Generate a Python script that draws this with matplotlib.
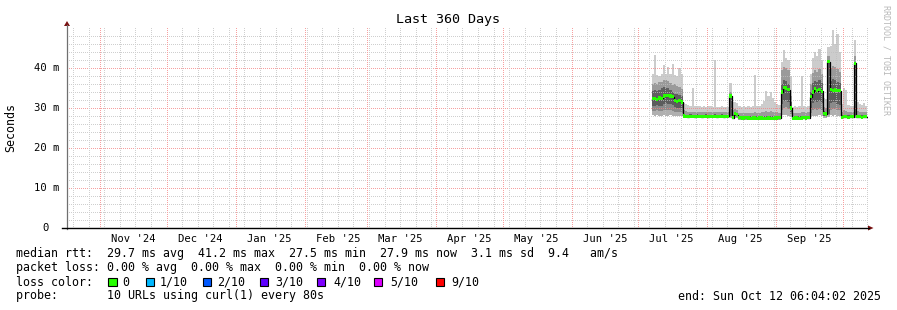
import numpy as np
import pandas as pd
import matplotlib
matplotlib.use("Agg")
import matplotlib.pyplot as plt
import matplotlib.dates as mdates
from matplotlib.patches import Rectangle, Polygon
from matplotlib.colors import to_rgb

W, H = 897, 310
MONO = "DejaVu Sans Mono"

# ---------------- data ----------------
graph_start = "2024-10-17 06:04:02"
graph_end = "2025-10-12 06:04:02"
data_start = "2025-07-07"

# daily median rtt (ms)
median = [32.3, 32.4, 32.2, 32.5, 32.4, 33.0, 33.1, 33.2, 33.0, 32.8, 31.8, 31.7, 31.8, 31.5,
          28.0, 27.9, 27.8, 27.9, 27.9, 27.8, 27.9, 27.9, 27.8, 27.9, 27.9, 27.8, 27.9, 27.9,
          27.9, 27.8, 27.9, 27.9, 27.8, 27.9, 27.9,
          33.0, 27.6, 28.6, 28.3,
          27.6, 27.5, 27.5, 27.6, 27.5, 27.4, 27.5, 27.5, 27.4, 27.5, 27.5, 27.4, 27.4, 27.5,
          27.4, 27.4, 27.5, 27.5, 27.6,
          34.0, 35.2, 35.0, 34.6, 30.0,
          27.4, 27.5, 27.5, 27.4, 27.5, 27.6, 27.5, 27.6,
          32.8, 34.0, 34.8, 34.3, 34.6, 34.2,
          28.7, 28.5, 41.6, 34.6, 34.4, 34.5, 34.4, 34.3,
          27.7, 27.8, 27.8, 27.7, 27.8, 27.8, 41.2,
          27.8, 27.8, 27.7, 27.8, 27.8]

# smoke (sorted ping distribution) levels, ms
smoke_min = [28.2, 28.1, 28.2, 28.0, 28.1, 28.2, 28.1, 28.0, 28.2, 28.1, 28.0, 28.1, 28.0, 28.0,
             27.5, 27.4, 27.4, 27.5, 27.4, 27.4, 27.5, 27.4, 27.4, 27.4, 27.5, 27.4, 27.4, 27.4,
             27.5, 27.4, 27.4, 27.5, 27.4, 27.4, 27.4,
             27.6, 27.3, 27.5, 27.4,
             27.1, 27.1, 27.0, 27.1, 27.1, 27.0, 27.1, 27.1, 27.0, 27.1, 27.1, 27.0, 27.0, 27.1,
             27.0, 27.0, 27.1, 27.1, 27.1,
             28.2, 28.3, 28.2, 28.1, 27.8,
             27.1, 27.1, 27.1, 27.0, 27.1, 27.2, 27.1, 27.2,
             27.8, 28.0, 28.1, 28.0, 28.2, 28.0,
             27.6, 27.5, 27.8, 28.2, 28.1, 28.2, 28.0, 28.1,
             27.4, 27.4, 27.4, 27.3, 27.4, 27.4, 27.6,
             27.4, 27.4, 27.3, 27.4, 27.4]
smoke_q1 = [29.3, 29.2, 29.4, 29.3, 29.2, 29.5, 29.6, 29.5, 29.4, 29.3, 29.0, 28.9, 28.9, 28.8,
            27.7, 27.6, 27.6, 27.7, 27.6, 27.6, 27.7, 27.6, 27.6, 27.6, 27.7, 27.6, 27.6, 27.6,
            27.7, 27.6, 27.6, 27.7, 27.6, 27.6, 27.6,
            27.8, 27.5, 27.8, 27.7,
            27.3, 27.3, 27.2, 27.3, 27.3, 27.2, 27.3, 27.3, 27.2, 27.3, 27.3, 27.2, 27.2, 27.3,
            27.2, 27.2, 27.3, 27.3, 27.3,
            29.5, 30.0, 30.2, 29.8, 28.5,
            27.3, 27.3, 27.3, 27.2, 27.3, 27.4, 27.3, 27.4,
            28.8, 29.5, 29.8, 29.6, 29.8, 29.4,
            27.9, 27.8, 28.2, 29.6, 29.8, 29.7, 29.5, 29.4,
            27.6, 27.6, 27.6, 27.5, 27.6, 27.6, 27.9,
            27.6, 27.6, 27.5, 27.6, 27.6]
smoke_q2 = [30.6, 30.5, 30.7, 30.6, 30.4, 31.0, 31.2, 31.1, 30.9, 30.7, 30.2, 30.0, 30.1, 29.9,
            27.8, 27.7, 27.7, 27.8, 27.7, 27.7, 27.8, 27.7, 27.7, 27.7, 27.8, 27.7, 27.7, 27.7,
            27.8, 27.7, 27.7, 27.8, 27.7, 27.7, 27.7,
            28.0, 27.6, 28.0, 27.9,
            27.4, 27.4, 27.3, 27.4, 27.4, 27.3, 27.4, 27.4, 27.3, 27.4, 27.4, 27.3, 27.3, 27.4,
            27.3, 27.3, 27.4, 27.4, 27.4,
            31.0, 31.8, 32.0, 31.5, 29.0,
            27.4, 27.4, 27.4, 27.3, 27.4, 27.5, 27.4, 27.5,
            30.0, 31.3, 31.8, 31.5, 31.8, 31.2,
            28.1, 28.0, 28.5, 31.2, 31.5, 31.4, 31.0, 30.8,
            27.7, 27.7, 27.7, 27.6, 27.7, 27.7, 28.2,
            27.7, 27.7, 27.6, 27.7, 27.7]
smoke_q3 = [34.3, 34.5, 34.2, 34.6, 35.0, 35.3, 35.1, 34.9, 34.6, 34.0, 33.6, 33.4, 33.2, 33.0,
            28.6, 28.3, 28.3, 28.4, 28.3, 28.3, 28.4, 28.3, 28.3, 28.3, 28.4, 28.3, 28.3, 28.3,
            28.4, 28.3, 28.3, 28.4, 28.3, 28.3, 28.3,
            33.2, 28.2, 28.9, 28.7,
            28.0, 28.0, 27.9, 28.0, 28.0, 27.9, 28.0, 28.0, 27.9, 28.0, 28.0, 27.9, 27.9, 28.0,
            27.9, 27.9, 28.0, 28.0, 28.0,
            36.0, 37.0, 36.8, 36.0, 31.5,
            28.0, 28.0, 28.0, 27.9, 28.0, 28.1, 28.0, 28.1,
            34.0, 36.3, 36.8, 36.5, 37.0, 36.2,
            29.2, 29.0, 41.6, 36.8, 37.2, 37.0, 36.6, 36.2,
            28.3, 28.3, 28.3, 28.2, 28.3, 28.3, 41.2,
            28.3, 28.3, 28.2, 28.3, 28.3]
smoke_q4 = [36.0, 36.3, 36.1, 36.4, 36.6, 37.1, 36.9, 36.7, 36.3, 35.8, 35.9, 35.6, 35.2, 34.8,
            29.6, 29.2, 29.0, 29.1, 29.0, 29.0, 29.1, 29.0, 29.0, 29.0, 29.1, 29.0, 29.0, 29.0,
            29.1, 29.0, 29.0, 29.1, 29.0, 29.0, 29.0,
            34.0, 29.5, 29.8, 29.6,
            28.8, 28.8, 28.7, 28.8, 28.8, 28.7, 28.8, 28.9, 28.7, 28.8, 28.9, 29.0, 29.2, 29.1,
            29.3, 29.1, 29.0, 28.9, 28.8,
            39.5, 40.3, 40.0, 39.5, 33.0,
            28.8, 28.8, 28.8, 28.7, 28.9, 28.9, 28.8, 28.9,
            36.0, 38.8, 39.5, 39.0, 39.8, 38.5,
            30.2, 30.0, 43.0, 40.0, 40.5, 40.3, 39.8, 39.0,
            29.0, 29.4, 29.3, 29.0, 29.0, 29.0, 43.0,
            29.2, 29.0, 29.0, 29.1, 29.0]
smoke_max = [38.5, 43.2, 38.3, 38.0, 38.4, 40.8, 38.6, 40.3, 38.4, 41.0, 38.2, 37.9, 40.0, 38.5,
             31.2, 31.0, 30.8, 30.6, 35.0, 30.5, 30.4, 30.5, 30.3, 30.4, 30.3, 30.5, 30.4, 30.3,
             42.0, 30.3, 30.2, 30.4, 30.3, 30.2, 30.3,
             36.2, 31.6, 31.6, 31.3,
             30.4, 30.3, 30.5, 30.3, 30.4, 30.2, 30.6, 38.2, 30.4, 30.5, 31.0, 31.8, 34.2, 33.0,
             34.0, 32.5, 31.5, 31.0, 30.8,
             41.5, 44.5, 42.6, 42.0, 38.0,
             30.3, 30.4, 30.2, 30.5, 38.0, 30.4, 30.3, 30.6,
             38.5, 42.5, 44.0, 43.0, 44.8, 42.0,
             32.5, 32.2, 45.3, 45.5, 49.5, 46.0, 48.5, 44.0,
             31.0, 35.0, 34.5, 30.8, 30.6, 30.5, 47.0,
             31.6, 31.0, 30.8, 31.2, 30.6]

y_ticks = [0, 10, 20, 30, 40]
y_tick_labels = ["0", "10 m", "20 m", "30 m", "40 m"]
month_labels = ["Nov '24", "Dec '24", "Jan '25", "Feb '25", "Mar '25", "Apr '25",
                "May '25", "Jun '25", "Jul '25", "Aug '25", "Sep '25"]
loss_labels = ["0", "1/10", "2/10", "3/10", "4/10", "5/10", "9/10"]
loss_colors = ["#26ff00", "#00b8ff", "#0059ff", "#5e00ff", "#7e00ff", "#dd00ff", "#ff0000"]

stats_line = "median rtt:  29.7 ms avg  41.2 ms max  27.5 ms min  27.9 ms now  3.1 ms sd  9.4   am/s"
loss_line = "packet loss: 0.00 % avg  0.00 % max  0.00 % min  0.00 % now"
probe_line = "probe:       10 URLs using curl(1) every 80s"
end_line = "end: Sun Oct 12 06:04:02 2025"
title = "Last 360 Days"

# ---------------- figure ----------------
fig = plt.figure(figsize=(W / 100, H / 100), dpi=100)
fig.patch.set_facecolor("white")

def fx(x):
    return x / W

def fy(y):
    return 1 - y / H

ax_l, ax_r, ax_t, ax_b = 67, 868, 28, 228
ax = fig.add_axes([fx(ax_l), fy(ax_b), (ax_r - ax_l) / W, (ax_b - ax_t) / H])
ax.set_facecolor("white")
for s in ax.spines.values():
    s.set_visible(False)

t0 = mdates.date2num(pd.Timestamp(graph_start))
t1 = mdates.date2num(pd.Timestamp(graph_end))
y0, y1 = 0, 50

# ---------- smoke ----------
n = len(median)
days = pd.date_range(data_start, periods=n + 1, freq="D")
xd = mdates.date2num(days)

def ext(a):
    a = np.asarray(a, dtype=float)
    return np.append(a, a[-1])

med = ext(median)
bands = [
    (smoke_min, smoke_q1, "#b0b0b0"),
    (smoke_q1, smoke_q2, "#8a8a8a"),
    (smoke_q2, median, "#5c5c5c"),
    (median, smoke_q3, "#606060"),
    (smoke_q3, smoke_q4, "#9a9a9a"),
    (smoke_q4, smoke_max, "#cccccc"),
]
for lo_, hi_, c in bands:
    ax.fill_between(xd, ext(lo_), ext(hi_), step="post", color=c, lw=0, zorder=2)

# ---------- grid: crisp 1px dotted lines, rendered as a pixel overlay ----------
ncols, nrows = ax_r - ax_l, ax_b - ax_t
grid_img = np.zeros((nrows, ncols, 4))
gray_rgba = (*to_rgb("#bfbfbf"), 0.75)
red_rgba = (*to_rgb("#f58080"), 0.75)

def col_of(t):
    return int(round((t - t0) / (t1 - t0) * ncols))

def row_of(v):
    return int(round((y1 - v) / (y1 - y0) * nrows))

months = pd.date_range("2024-11-01", graph_end, freq="MS")
weeks = pd.date_range("2024-10-20", graph_end, freq="7D")
for v in np.arange(2, 50, 2):
    r = row_of(v)
    if 0 <= r < nrows:
        grid_img[r, ::2] = red_rgba if v % 10 == 0 else gray_rgba
for d in weeks:
    if d in months:
        continue
    c = col_of(mdates.date2num(d))
    if 0 <= c < ncols:
        grid_img[::2, c] = gray_rgba
for d in months:
    c = col_of(mdates.date2num(d))
    if 0 <= c < ncols:
        grid_img[::2, c] = red_rgba
ax.imshow(grid_img, extent=(t0, t1, y0, y1), aspect="auto", interpolation="nearest",
          zorder=3)

ax.set_xlim(t0, t1)
ax.set_ylim(y0, y1)

# ---------- median ----------
ax.step(xd, med, where="post", color="#000000", lw=0.9, zorder=4)
ax.fill_between(xd, med - 0.4, med + 0.4, step="post", color=loss_colors[0], lw=0, zorder=5)

# ---------- ticks / labels ----------
label_days = pd.date_range("2024-11-01", "2025-09-30", freq="MS") + pd.Timedelta(days=15)
ax.set_xticks(mdates.date2num(label_days))
ax.set_xticklabels(month_labels, fontfamily=MONO, fontsize=7.6)
ax.tick_params(axis="x", length=0, pad=4.2)
ax.set_yticks(y_ticks)
ax.set_yticklabels([])
ax.tick_params(axis="y", length=0)
ytr = ax.get_yaxis_transform()
for v, lab in zip(y_ticks, y_tick_labels):
    if lab == "0":
        ax.text(-25.0 / (ax_r - ax_l), v, lab, transform=ytr, ha="left", va="center",
                fontfamily=MONO, fontsize=7.6)
    else:
        ax.text(-7.0 / (ax_r - ax_l), v, lab, transform=ytr, ha="right", va="center",
                fontfamily=MONO, fontsize=7.6)

# axes lines and arrows (figure pixel coords)
fig.add_artist(plt.Line2D([fx(67), fx(67)], [fy(229), fy(25)], color="#707070", lw=0.9))
fig.add_artist(plt.Line2D([fx(62), fx(869)], [fy(228), fy(228)], color="#000000", lw=1.0))
fig.add_artist(Polygon([(fx(64), fy(26)), (fx(70), fy(26)), (fx(67), fy(21))], closed=True,
                       color="#7a1010", lw=0))
fig.add_artist(Polygon([(fx(868), fy(225.5)), (fx(868), fy(230.5)), (fx(873.5), fy(228))],
                       closed=True, color="#7a1010", lw=0))

# titles
fig.text(fx(448), fy(19), title, ha="center", va="center", fontfamily=MONO, fontsize=9.6)
fig.text(fx(11), fy(127), "Seconds", ha="center", va="center", rotation=90,
         fontfamily=MONO, fontsize=8.4)
fig.text(fx(886), fy(5), "RRDTOOL / TOBI OETIKER", ha="center", va="top", rotation=270,
         fontfamily=MONO, fontsize=6.0, color="#b8b8b8")

# legend
fs = 8.4
fig.text(fx(16), fy(254), stats_line, ha="left", va="center", fontfamily=MONO, fontsize=fs)
fig.text(fx(16), fy(268), loss_line, ha="left", va="center", fontfamily=MONO, fontsize=fs)
fig.text(fx(16), fy(282), "loss color:", ha="left", va="center", fontfamily=MONO, fontsize=fs)
box_x = [108.3, 145.7, 202.7, 259.7, 317.0, 374.0, 436.0]
text_x = [122.7, 160.0, 216.7, 275.3, 333.3, 390.0, 451.7]
for bx, tx, c, lab in zip(box_x, text_x, loss_colors, loss_labels):
    fig.add_artist(Rectangle((fx(bx), fy(286)), 8.3 / W, 8.3 / H, facecolor=c,
                             edgecolor="black", lw=0.8))
    fig.text(fx(tx), fy(282), lab, ha="left", va="center", fontfamily=MONO, fontsize=fs)
fig.text(fx(16), fy(296), probe_line, ha="left", va="center", fontfamily=MONO, fontsize=fs)
fig.text(fx(880.5), fy(296), end_line, ha="right", va="center", fontfamily=MONO, fontsize=fs)

fig.savefig("out.png", dpi=100, facecolor="white")
